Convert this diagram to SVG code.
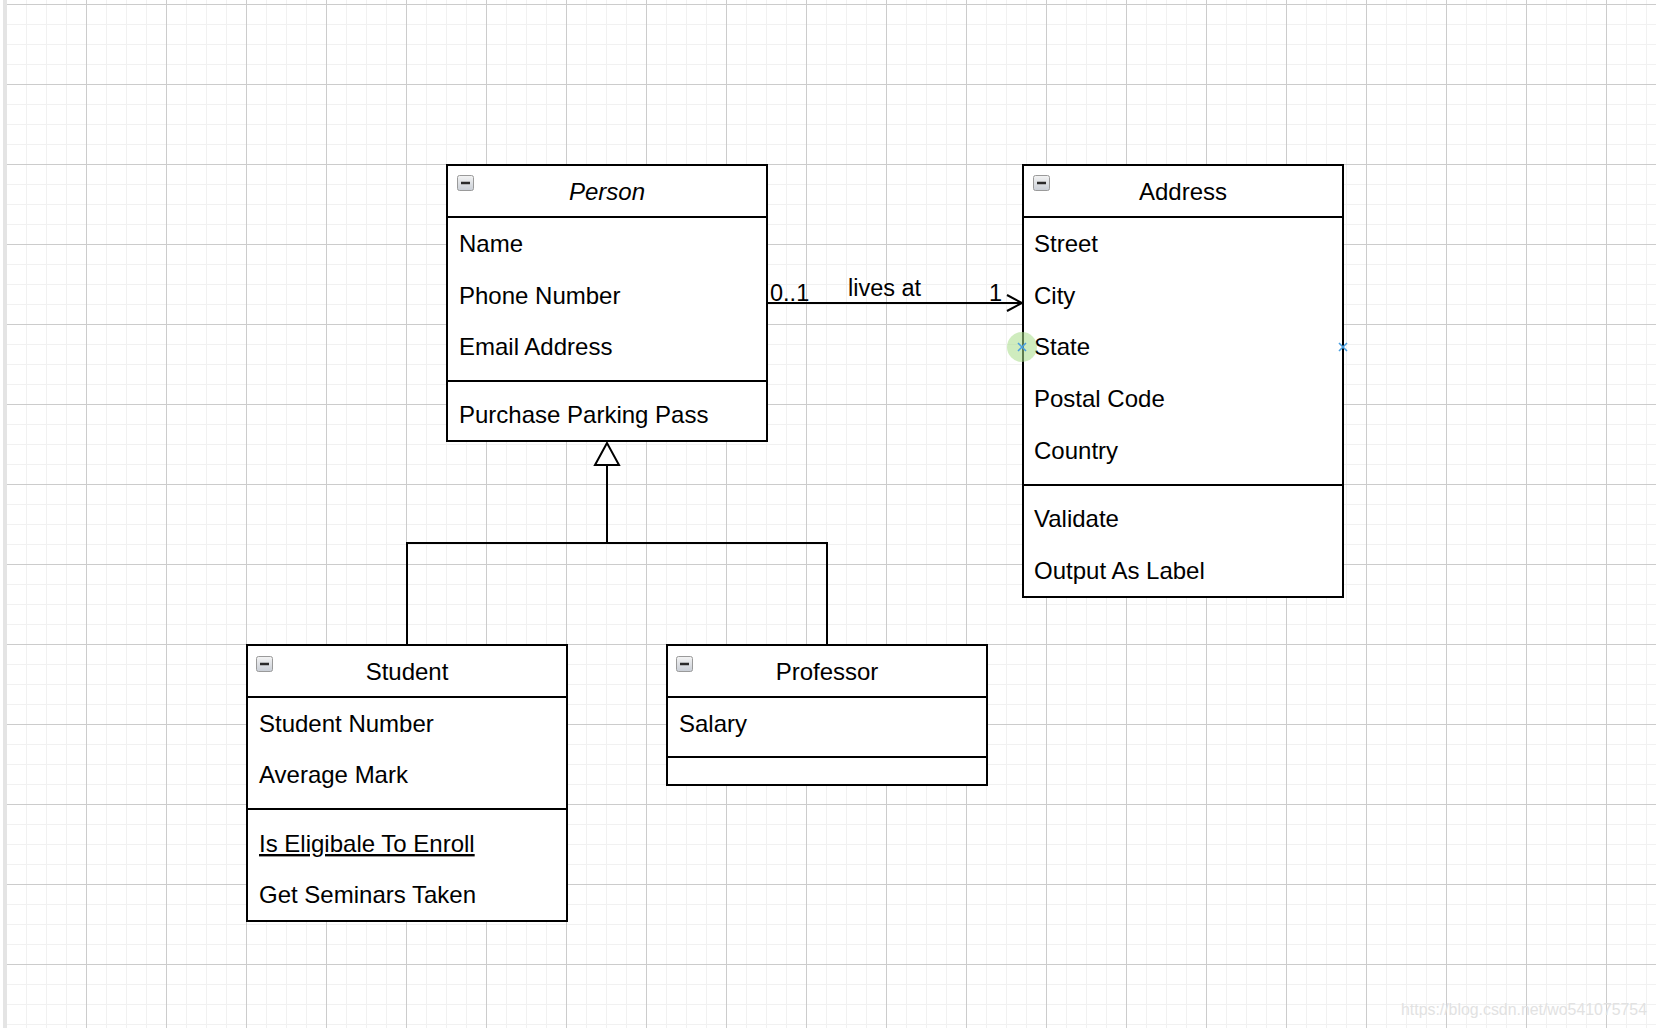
<svg xmlns="http://www.w3.org/2000/svg" width="1656" height="1028" viewBox="0 0 1656 1028">
  <style>
    .box { fill: #ffffff; stroke: #000000; stroke-width: 2; }
    .sep { stroke: #000000; stroke-width: 2; fill: none; }
    .t { font-family: "Liberation Sans", Arial, Helvetica, sans-serif; font-size: 24px; fill: #000000; }
    .title { text-anchor: middle; }
    .lbl { font-family: "Liberation Sans", Arial, Helvetica, sans-serif; font-size: 23.5px; fill: #000000; }
    .edge { stroke: #000000; stroke-width: 2; fill: none; }
    .ic { fill: url(#icg); stroke: #9a9a9a; stroke-width: 1; }
    .icm { stroke: #2a2a2a; stroke-width: 2.5; }
    .hx { stroke: #4a9fe0; stroke-width: 1.6; }
  </style>
  <defs>
    <pattern id="grid" patternUnits="userSpaceOnUse" x="6" y="4" width="80" height="80">
      <path d="M20.5 0V80M40.5 0V80M60.5 0V80M0 20.5H80M0 40.5H80M0 60.5H80" stroke="#f1f1f1" stroke-width="1" fill="none"/>
      <path d="M0.5 0V80M0 0.5H80" stroke="#cccccc" stroke-width="1" fill="none"/>
    </pattern>
    <linearGradient id="icg" x1="0" y1="0" x2="0" y2="1">
      <stop offset="0" stop-color="#f4f4f4"/>
      <stop offset="1" stop-color="#c9ced6"/>
    </linearGradient>
  </defs>

  <rect x="0" y="0" width="1656" height="1028" fill="#ffffff"/>
  <rect x="7" y="0" width="1649" height="1028" fill="url(#grid)"/>
  <rect x="3" y="0" width="4" height="1028" fill="#e4e4e4"/>

  <g id="connectors">
    <g id="association">
      <line class="edge" x1="767" y1="303" x2="1022" y2="303"/>
      <polyline class="edge" points="1007,295 1022,303 1007,311"/>
      <text class="lbl" x="770" y="301">0..1</text>
      <text class="lbl" x="848" y="296">lives at</text>
      <text class="lbl" x="1002" y="301" text-anchor="end">1</text>
    </g>
    <g id="generalization">
      <path class="edge" d="M407 645V543H827V645M607 543V465"/>
      <polygon points="607,443 595,465 619,465" fill="#ffffff" stroke="#000000" stroke-width="2"/>
    </g>
  </g>

  <g id="person">
    <rect class="box" x="447" y="165" width="320" height="276"/>
    <line class="sep" x1="447" y1="217" x2="767" y2="217"/>
    <line class="sep" x1="447" y1="381" x2="767" y2="381"/>
    <rect class="ic" x="457.5" y="175.5" width="16" height="15" rx="2"/>
    <line class="icm" x1="461" y1="183" x2="470" y2="183"/>
    <text class="t title" x="607" y="200" font-style="italic">Person</text>
    <text class="t" x="459" y="252">Name</text>
    <text class="t" x="459" y="304">Phone Number</text>
    <text class="t" x="459" y="355">Email Address</text>
    <text class="t" x="459" y="423">Purchase Parking Pass</text>
  </g>

  <g id="address">
    <rect class="box" x="1023" y="165" width="320" height="432"/>
    <line class="sep" x1="1023" y1="217" x2="1343" y2="217"/>
    <line class="sep" x1="1023" y1="485" x2="1343" y2="485"/>
    <rect class="ic" x="1033.5" y="175.5" width="16" height="15" rx="2"/>
    <line class="icm" x1="1037" y1="183" x2="1046" y2="183"/>
    <text class="t title" x="1183" y="200">Address</text>
    <text class="t" x="1034" y="252">Street</text>
    <text class="t" x="1034" y="304">City</text>
    <text class="t" x="1034" y="355">State</text>
    <text class="t" x="1034" y="407">Postal Code</text>
    <text class="t" x="1034" y="459">Country</text>
    <text class="t" x="1034" y="527">Validate</text>
    <text class="t" x="1034" y="579">Output As Label</text>
  </g>

  <g id="student">
    <rect class="box" x="247" y="645" width="320" height="276"/>
    <line class="sep" x1="247" y1="697" x2="567" y2="697"/>
    <line class="sep" x1="247" y1="809" x2="567" y2="809"/>
    <rect class="ic" x="256.5" y="656.5" width="16" height="15" rx="2"/>
    <line class="icm" x1="260" y1="664" x2="269" y2="664"/>
    <text class="t title" x="407" y="680">Student</text>
    <text class="t" x="259" y="732">Student Number</text>
    <text class="t" x="259" y="783">Average Mark</text>
    <text class="t" x="259" y="852" text-decoration="underline">Is Eligibale To Enroll</text>
    <text class="t" x="259" y="903">Get Seminars Taken</text>
  </g>

  <g id="professor">
    <rect class="box" x="667" y="645" width="320" height="140"/>
    <line class="sep" x1="667" y1="697" x2="987" y2="697"/>
    <line class="sep" x1="667" y1="757" x2="987" y2="757"/>
    <rect class="ic" x="676.5" y="656.5" width="16" height="15" rx="2"/>
    <line class="icm" x1="680" y1="664" x2="689" y2="664"/>
    <text class="t title" x="827" y="680">Professor</text>
    <text class="t" x="679" y="732">Salary</text>
  </g>

  <g id="hover-points">
    <circle cx="1022" cy="347" r="15" fill="#a8dd88" fill-opacity="0.55"/>
    <path class="hx" d="M1018 343L1026 351M1026 343L1018 351"/>
    <path class="hx" d="M1339 343L1347 351M1347 343L1339 351"/>
  </g>

  <text x="1401" y="1015" font-family="'Liberation Sans', Arial, sans-serif" font-size="16" fill="#e2e2e2" textLength="246" lengthAdjust="spacingAndGlyphs">https://blog.csdn.net/wo541075754</text>
</svg>
